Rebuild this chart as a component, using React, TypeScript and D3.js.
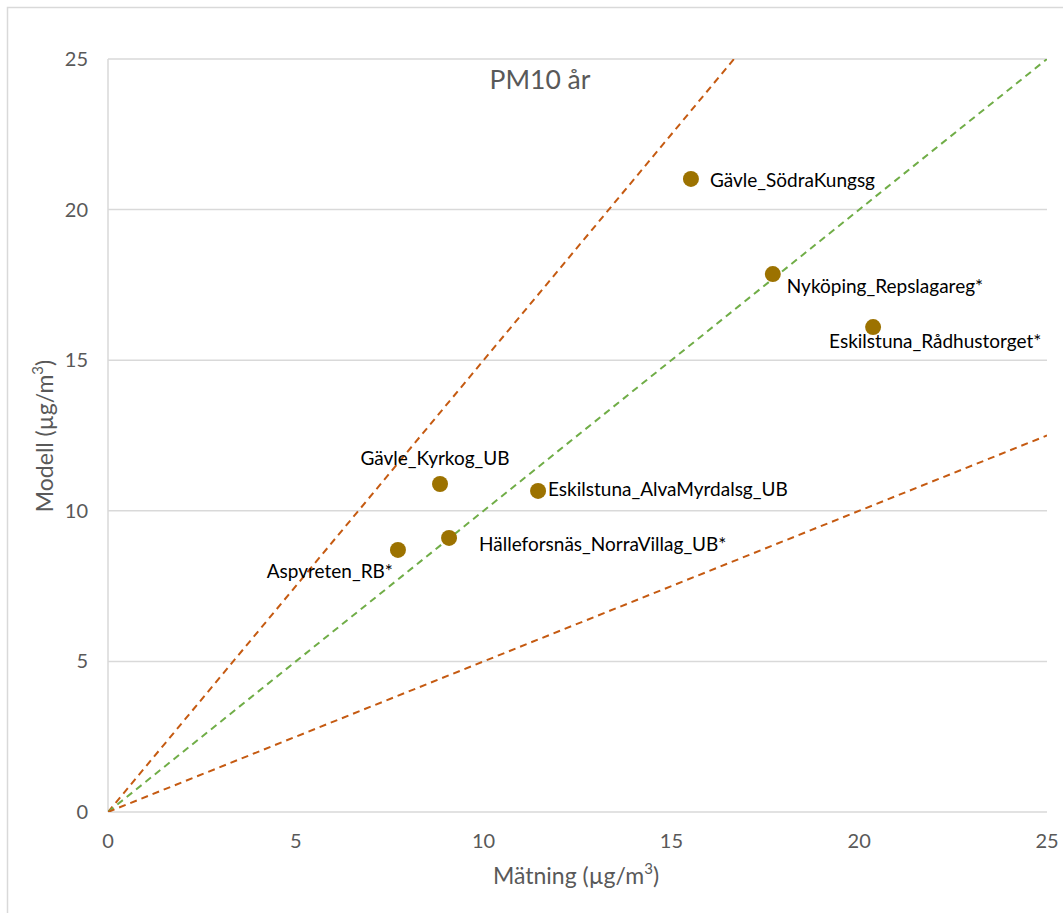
import React, { useEffect, useRef } from 'react';
import * as d3 from 'd3';

// station names, measured and modelled annual PM10 (µg/m3)
const stations = [
  'Gävle_SödraKungsg',
  'Nyköping_Repslagareg*',
  'Eskilstuna_Rådhustorget*',
  'Gävle_Kyrkog_UB',
  'Eskilstuna_AlvaMyrdalsg_UB',
  'Hälleforsnäs_NorraVillag_UB*',
  'Aspvreten_RB*',
];
const measured = [15.52, 17.7, 20.37, 8.84, 11.45, 9.08, 7.72];
const modelled = [21.02, 17.86, 16.1, 10.89, 10.66, 9.1, 8.7];

const ticks = [0, 5, 10, 15, 20, 25];
// reference lines y = k * x
const slopes = [1.5, 1, 0.5];
const slopeColors = ['#C55A11', '#70AD47', '#C55A11'];

// label placement: [anchor, dx, dy]
const labelPos: [string, number, number][] = [
  ['start', 19, 8],
  ['start', 14, 19],
  ['start', -44, 21],
  ['middle', -5, -19],
  ['start', 10, 5],
  ['start', 30, 13],
  ['end', -5, 28],
];

const App = () => {
  const ref = useRef<SVGSVGElement>(null);

  useEffect(() => {
    const svg = d3.select(ref.current);
    svg.selectAll('*').remove();

    const font = 'Lato, sans-serif';
    const x = d3.scaleLinear().domain([0, 25]).range([108, 1047]);
    const y = d3.scaleLinear().domain([0, 25]).range([812, 59]);

    // chart frame
    svg
      .append('rect')
      .attr('x', 7.5)
      .attr('y', 7.5)
      .attr('width', 1070)
      .attr('height', 920)
      .attr('fill', '#fff')
      .attr('stroke', '#d9d9d9')
      .attr('stroke-width', 1.5);

    // horizontal gridlines
    svg
      .append('g')
      .selectAll('line')
      .data(ticks)
      .join('line')
      .attr('x1', x(0))
      .attr('x2', x(25))
      .attr('y1', (d) => y(d))
      .attr('y2', (d) => y(d))
      .attr('stroke', '#d9d9d9')
      .attr('stroke-width', 1.5);

    // y axis line
    svg
      .append('line')
      .attr('x1', x(0))
      .attr('x2', x(0))
      .attr('y1', y(0))
      .attr('y2', y(25))
      .attr('stroke', '#d9d9d9')
      .attr('stroke-width', 1.5);

    // tick labels
    svg
      .append('g')
      .selectAll('text')
      .data(ticks)
      .join('text')
      .attr('x', 88)
      .attr('y', (d) => y(d) + 7)
      .attr('text-anchor', 'end')
      .attr('font-family', font)
      .attr('font-size', 20)
      .attr('fill', '#595959')
      .text((d) => d);

    svg
      .append('g')
      .selectAll('text')
      .data(ticks)
      .join('text')
      .attr('x', (d) => x(d))
      .attr('y', 848)
      .attr('text-anchor', 'middle')
      .attr('font-family', font)
      .attr('font-size', 20)
      .attr('fill', '#595959')
      .text((d) => d);

    // reference lines, clipped to the plot area
    svg
      .append('defs')
      .append('clipPath')
      .attr('id', 'plot')
      .append('rect')
      .attr('x', x(0))
      .attr('y', y(25))
      .attr('width', x(25) - x(0))
      .attr('height', y(0) - y(25));

    svg
      .append('g')
      .attr('clip-path', 'url(#plot)')
      .selectAll('line')
      .data(slopes)
      .join('line')
      .attr('x1', x(0))
      .attr('y1', y(0))
      .attr('x2', (k) => x(Math.min(25, 25 / k)))
      .attr('y2', (k) => y(Math.min(25, 25 * k)))
      .attr('stroke', (_, i) => slopeColors[i])
      .attr('stroke-width', 2)
      .attr('stroke-dasharray', '7,5');

    // points
    svg
      .append('g')
      .selectAll('circle')
      .data(stations)
      .join('circle')
      .attr('cx', (_, i) => x(measured[i]))
      .attr('cy', (_, i) => y(modelled[i]))
      .attr('r', 8)
      .attr('fill', '#9C7200');

    svg
      .append('g')
      .selectAll('text')
      .data(stations)
      .join('text')
      .attr('x', (_, i) => x(measured[i]) + labelPos[i][1])
      .attr('y', (_, i) => y(modelled[i]) + labelPos[i][2])
      .attr('text-anchor', (_, i) => labelPos[i][0])
      .attr('font-family', font)
      .attr('font-size', 19)
      .attr('fill', '#000')
      .text((d) => d);

    // title
    svg
      .append('text')
      .attr('x', 540)
      .attr('y', 89)
      .attr('text-anchor', 'middle')
      .attr('font-family', font)
      .attr('font-size', 26.5)
      .attr('fill', '#595959')
      .text('PM10 år');

    // axis titles
    const xt = svg
      .append('text')
      .attr('x', 576)
      .attr('y', 884)
      .attr('text-anchor', 'middle')
      .attr('font-family', font)
      .attr('font-size', 23)
      .attr('fill', '#595959');
    xt.append('tspan').text('Mätning (µg/m');
    xt.append('tspan').attr('font-size', 15).attr('dy', -10).text('3');
    xt.append('tspan').attr('dy', 10).text(')');

    const yt = svg
      .append('text')
      .attr('transform', `translate(53, 436) rotate(-90)`)
      .attr('text-anchor', 'middle')
      .attr('font-family', font)
      .attr('font-size', 23)
      .attr('fill', '#595959');
    yt.append('tspan').text('Modell (µg/m');
    yt.append('tspan').attr('font-size', 15).attr('dy', -10).text('3');
    yt.append('tspan').attr('dy', 10).text(')');
  }, []);

  return (
    <svg
      ref={ref}
      width={1063}
      height={913}
      style={{ position: 'absolute', left: 0, top: 0 }}
    />
  );
};

export default App;
